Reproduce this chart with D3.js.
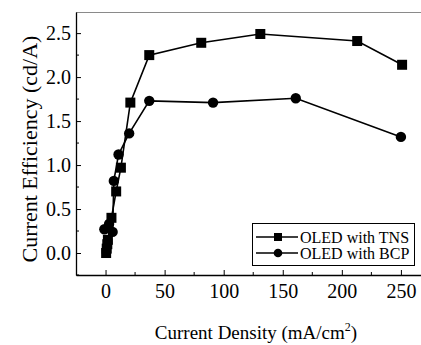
<!DOCTYPE html>
<html>
<head>
<meta charset="utf-8">
<script src="https://cdn.jsdelivr.net/npm/d3@7"></script>
<style>
  body { margin: 0; background: #fff; }
  svg { display: block; font-family: "Liberation Serif", "DejaVu Serif", serif; }
</style>
</head>
<body>
<div id="chart"></div>
<script>
// series: OLED with TNS (squares)
const tnsX = [0.5, 1, 1.5, 2, 5, 9, 13, 21, 37, 81, 131, 213, 251];
const tnsY = [0.0, 0.05, 0.1, 0.15, 0.40, 0.70, 0.97, 1.71, 2.25, 2.39, 2.49, 2.41, 2.14];
// series: OLED with BCP (circles)
const bcpX = [-1, 3, 6, 7, 11, 20, 37, 91, 161, 250];
const bcpY = [0.27, 0.33, 0.24, 0.82, 1.12, 1.36, 1.73, 1.71, 1.76, 1.32];

const xTicks = [0, 50, 100, 150, 200, 250];
const yTicks = [0.0, 0.5, 1.0, 1.5, 2.0, 2.5];
const legendLabels = ['OLED with TNS', 'OLED with BCP'];

const W = 421, H = 345;
const margin = { top: 12, right: 0, bottom: 70, left: 76 };

const svg = d3.select('#chart')
    .append('svg')
    .attr('width', W)
    .attr('height', H);

const x = d3.scaleLinear().domain([-25, 267]).range([margin.left, W - margin.right]);
const y = d3.scaleLinear().domain([-0.25, 2.74]).range([H - margin.bottom, margin.top]);

// top frame line (faint in the scan)
svg.append('line')
    .attr('x1', margin.left).attr('x2', W)
    .attr('y1', margin.top + 0.5).attr('y2', margin.top + 0.5)
    .attr('stroke', '#8a8a8a').attr('stroke-width', 1);

// minor ticks
const xMinor = d3.range(25, 275, 50);
svg.append('g').selectAll('line').data(xMinor).enter().append('line')
    .attr('x1', d => x(d)).attr('x2', d => x(d))
    .attr('y1', y.range()[0]).attr('y2', y.range()[0] - 3)
    .attr('stroke', '#000');
const yMinor = d3.range(-0.25, 2.75, 0.5);
svg.append('g').selectAll('line').data(yMinor).enter().append('line')
    .attr('x1', margin.left).attr('x2', margin.left + 3)
    .attr('y1', d => y(d)).attr('y2', d => y(d))
    .attr('stroke', '#000');

// axes
const xAxis = svg.append('g')
    .attr('transform', `translate(0,${y.range()[0]})`)
    .call(d3.axisBottom(x).tickValues(xTicks).tickSizeInner(-5).tickSizeOuter(0).tickPadding(9));
xAxis.select('.domain').attr('stroke-width', 1.3);
xAxis.selectAll('text').attr('font-size', 20).attr('font-family', '"Liberation Serif", serif').attr('fill', '#000');

const yAxis = svg.append('g')
    .attr('transform', `translate(${margin.left},0)`)
    .call(d3.axisLeft(y).tickValues(yTicks).tickFormat(d3.format('.1f'))
        .tickSizeInner(-5).tickSizeOuter(0).tickPadding(5));
yAxis.select('.domain').attr('stroke-width', 1.3);
yAxis.selectAll('text').attr('font-size', 20).attr('font-family', '"Liberation Serif", serif').attr('fill', '#000');

// axis titles
svg.append('text')
    .attr('x', 256).attr('y', 339)
    .attr('text-anchor', 'middle')
    .attr('font-size', 19)
    .html('Current Density (mA/cm<tspan dy="-8" font-size="12">2</tspan><tspan dy="8">)</tspan>');

svg.append('text')
    .attr('transform', 'translate(37,149) rotate(-90)')
    .attr('text-anchor', 'middle')
    .attr('font-size', 22)
    .text('Current Efficiency (cd/A)');

const line = d3.line().x(d => x(d[0])).y(d => y(d[1]));
const tns = tnsX.map((v, i) => [v, tnsY[i]]);
const bcp = bcpX.map((v, i) => [v, bcpY[i]]);

svg.append('path').datum(tns).attr('d', line)
    .attr('fill', 'none').attr('stroke', '#000').attr('stroke-width', 1.6);
svg.append('path').datum(bcp).attr('d', line)
    .attr('fill', 'none').attr('stroke', '#000').attr('stroke-width', 1.6);

const sq = 10, r = 5.2;
svg.append('g').selectAll('rect').data(tns).enter().append('rect')
    .attr('x', d => x(d[0]) - sq / 2).attr('y', d => y(d[1]) - sq / 2)
    .attr('width', sq).attr('height', sq).attr('fill', '#000');
svg.append('g').selectAll('circle').data(bcp).enter().append('circle')
    .attr('cx', d => x(d[0])).attr('cy', d => y(d[1])).attr('r', r).attr('fill', '#000');

// legend
const lg = svg.append('g');
lg.append('rect')
    .attr('x', 252.5).attr('y', 223.5).attr('width', 162).attr('height', 42)
    .attr('fill', '#fff').attr('stroke', '#000').attr('stroke-width', 1);
legendLabels.forEach((label, i) => {
    const ly = 237 + i * 16;
    lg.append('line').attr('x1', 256).attr('x2', 298).attr('y1', ly).attr('y2', ly)
        .attr('stroke', '#000').attr('stroke-width', 1.6);
    if (i === 0) {
        lg.append('rect').attr('x', 274).attr('y', ly - 4).attr('width', 8).attr('height', 8).attr('fill', '#000');
    } else {
        lg.append('circle').attr('cx', 278).attr('cy', ly).attr('r', 4.3).attr('fill', '#000');
    }
    lg.append('text').attr('x', 300).attr('y', ly + 5.5)
        .attr('font-size', 16).text(label);
});
</script>
</body>
</html>
